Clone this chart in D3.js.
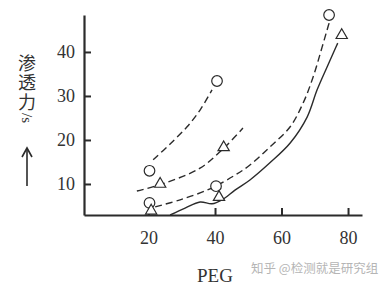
<!DOCTYPE html>
<html><head><meta charset="utf-8">
<script src="https://cdn.jsdelivr.net/npm/d3@7/dist/d3.min.js"></script>
<style>body{margin:0;background:#fff}svg{display:block}</style>
</head><body>
<script>
// ---- data ----
const xTicks = [20, 40, 60, 80];
const yTicks = [10, 20, 30, 40];
const xLabel = "PEG";
const yLabel = "渗透力";
const yUnit = "/s";
const watermark = "知乎 @检测就是研究组";

// curve traces [PEG, value]
const lineUpperCircle = [[21.4,15.5],[26.5,19.1],[31.6,23.0],[35.5,26.8],[39.1,31.4]];
const lineUpperTriangle = [[16.5,8.4],[24.1,10.0],[35.5,13.6],[42.7,18.2],[48.4,22.7]];
const lineLowerCircle = [[22.0,4.8],[29.5,6.4],[38.5,8.9],[46.0,12.0],[50.5,14.3],[56.5,18.4],[62.6,23.0],[66.5,28.4],[69.5,34.3],[72.2,41.1],[73.7,45.0],[74.6,47.3]];
const lineSolid = [[26.5,2.95],[31.0,4.5],[35.5,5.9],[39.1,5.5],[42.1,6.4],[46.0,8.6],[50.5,10.9],[56.5,14.8],[62.6,19.3],[67.7,25.2],[70.7,31.4],[73.7,36.6],[76.0,40.5],[76.9,42.0]];

const circlePts = [[20.3,5.7],[20.3,13.0],[40.3,9.5],[40.6,33.4],[74.3,48.4]];
const trianglePts = [[20.8,3.9],[23.5,10.0],[41.2,7.0],[42.6,18.3],[78.1,43.8]];

// ---- drawing ----
const W = 383, H = 292;
const svg = d3.select("body").append("svg").attr("width", W).attr("height", H);

const x = d3.scaleLinear().domain([0.6, 84.2]).range([84, 362]);
const y = d3.scaleLinear().domain([2.95, 48.4]).range([215, 15]);

const ink = "#2b2b2b";
const serif = "'Liberation Serif','Times New Roman',serif";

// y axis
const gy = svg.append("g").attr("transform", "translate(84,0)")
  .call(d3.axisLeft(y).tickValues(yTicks).tickSize(-7).tickSizeOuter(0).tickPadding(9));
gy.attr("font-family", serif).attr("font-size", 18);
gy.select(".domain").attr("stroke", ink).attr("stroke-width", 2.2);
gy.selectAll(".tick line").attr("stroke", ink).attr("stroke-width", 2);
gy.selectAll(".tick text").style("font-family", serif).style("font-size", "18px").attr("fill", "#333");

// x axis
const gx = svg.append("g").attr("transform", "translate(0,215)")
  .call(d3.axisBottom(x).tickValues(xTicks).tickSize(-7).tickSizeOuter(0).tickPadding(16));
gx.attr("font-family", serif).attr("font-size", 18);
gx.select(".domain").attr("stroke", ink).attr("stroke-width", 2.2);
gx.selectAll(".tick line").attr("stroke", ink).attr("stroke-width", 2);
gx.selectAll(".tick text").style("font-family", serif).style("font-size", "18px").attr("fill", "#333");

// curves
const line = d3.line().x(d => x(d[0])).y(d => y(d[1])).curve(d3.curveCatmullRom.alpha(0.5));
const curves = [
  {data: lineUpperCircle, dash: "7,4"},
  {data: lineUpperTriangle, dash: "7,4"},
  {data: lineLowerCircle, dash: "7,4"},
  {data: lineSolid, dash: null}
];
curves.forEach(c => {
  svg.append("path").datum(c.data).attr("d", line)
    .attr("fill", "none").attr("stroke", ink).attr("stroke-width", 1.4)
    .attr("stroke-dasharray", c.dash);
});

// markers
svg.selectAll("circle.m").data(circlePts).join("circle").attr("class", "m")
  .attr("cx", d => x(d[0])).attr("cy", d => y(d[1])).attr("r", 5.3)
  .attr("fill", "#fff").attr("stroke", ink).attr("stroke-width", 1.2);
const tri = d3.symbol().type(d3.symbolTriangle).size(55);
svg.selectAll("path.t").data(trianglePts).join("path").attr("class", "t")
  .attr("d", tri).attr("transform", d => `translate(${x(d[0])},${y(d[1])})`)
  .attr("fill", "#fff").attr("stroke", ink).attr("stroke-width", 1.2);

// y title: vertical text (CJK upright, Latin rotated)
const yt = svg.append("text").attr("x", 27).attr("y", 54).attr("fill", "#333")
  .style("writing-mode", "vertical-rl").style("text-orientation", "mixed")
  .style("font-family", "'Noto Sans CJK SC',sans-serif").style("font-size", "18px");
yt.append("tspan").style("letter-spacing", "1.5px").text(yLabel);
yt.append("tspan").style("font-family", serif).style("font-size", "15px").text(yUnit);

// arrow
svg.append("line").attr("x1", 27).attr("x2", 27).attr("y1", 150).attr("y2", 186)
  .attr("stroke", ink).attr("stroke-width", 1.6);
svg.append("path").attr("d", d3.line()([[22, 157], [27, 148], [32, 157]]))
  .attr("fill", "none").attr("stroke", ink).attr("stroke-width", 1.6);

// x title
svg.append("text").attr("x", 215).attr("y", 282).attr("text-anchor", "middle")
  .style("font-family", serif).style("font-size", "19px").attr("fill", "#333").text(xLabel);

// watermark
svg.append("text").attr("x", 251).attr("y", 273)
  .style("font-family", "'Noto Sans CJK SC',sans-serif").style("font-size", "12.5px")
  .attr("fill", "#b5b5b5").text(watermark);
</script>
</body></html>
